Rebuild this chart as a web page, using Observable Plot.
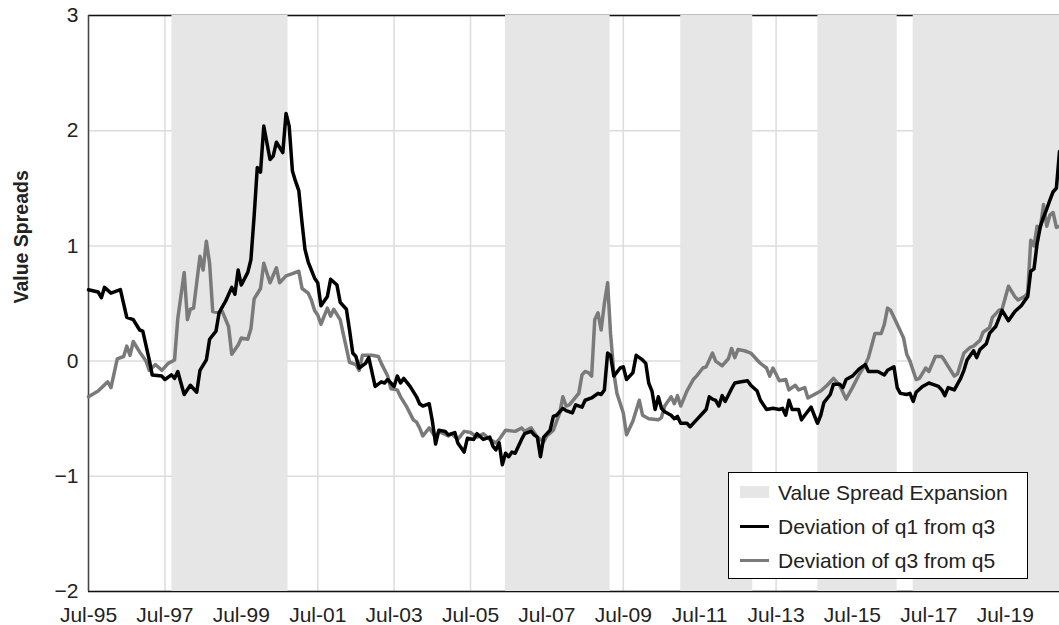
<!DOCTYPE html>
<html>
<head>
<meta charset="utf-8">
<script src="https://cdn.jsdelivr.net/npm/d3@7"></script>
<script src="https://cdn.jsdelivr.net/npm/@observablehq/plot@0.6"></script>
<style>
  body { margin: 0; background: #fff; }
  #wrap { position: relative; width: 1059px; height: 625px; font-family: "Liberation Sans", Arial, sans-serif; }
  #legend { position: absolute; left: 728px; top: 472px; width: 300px; height: 107px; border: 1px solid #000; background: #fff; box-sizing: border-box; font-size: 21px; color: #222; }
  #legend .row { position: absolute; left: 0; height: 30px; width: 100%; }
  #legend .sw { position: absolute; left: 11px; width: 29px; }
  #legend .lab { position: absolute; left: 49px; top: 50%; transform: translateY(-50%); white-space: nowrap; line-height: 1; }
</style>
</head>
<body>
<div id="wrap"></div>
<script>
// ---- Data ----
const yLabel = "Value Spreads";
const seriesNames = ["Value Spread Expansion", "Deviation of q1 from q3", "Deviation of q3 from q5"];
const tickDates = ["1995-07","1997-07","1999-07","2001-07","2003-07","2005-07","2007-07","2009-07","2011-07","2013-07","2015-07","2017-07","2019-07"];
const tickLabels = ["Jul-95","Jul-97","Jul-99","Jul-01","Jul-03","Jul-05","Jul-07","Jul-09","Jul-11","Jul-13","Jul-15","Jul-17","Jul-19"];
const yTicks = [-2, -1, 0, 1, 2, 3];
const yTickLabels = ["\u22122", "\u22121", "0", "1", "2", "3"];
const xDomain = ["1995-07-01", "2020-12-01"];
const yDomain = [-2, 3];

// Value spread expansion periods (shaded)
const expansionPeriods = [
  ["1997-09-06", "2000-09-20"],
  ["2006-06-01", "2009-02-25"],
  ["2011-01-01", "2012-11-20"],
  ["2014-08-05", "2016-09-01"],
  ["2017-02-01", "2020-12-01"]
];

// Deviation of q1 from q3 (black)
const q1FromQ3 = [
  ["1995-07",0.62],["1995-10",0.60],["1995-11",0.55],["1995-12",0.64],["1996-02",0.59],["1996-05",0.62],
  ["1996-07",0.38],["1996-09",0.36],["1996-11",0.27],["1996-12",0.26],["1997-02",0.01],["1997-03",-0.12],
  ["1997-06",-0.13],["1997-07",-0.16],["1997-09",-0.12],["1997-10",-0.15],["1997-11",-0.09],["1997-12",-0.19],
  ["1998-01",-0.29],["1998-03",-0.21],["1998-05",-0.27],["1998-06",-0.08],["1998-08",0.01],["1998-09",0.19],
  ["1998-11",0.26],["1998-12",0.42],["1999-02",0.52],["1999-04",0.64],["1999-05",0.58],["1999-06",0.79],
  ["1999-07",0.66],["1999-09",0.77],["1999-10",0.88],["1999-11",1.26],["1999-12",1.68],["2000-01",1.64],
  ["2000-02",2.04],["2000-04",1.75],["2000-05",1.78],["2000-06",1.90],["2000-08",1.81],["2000-09",2.15],
  ["2000-10",2.04],["2000-11",1.65],["2000-12",1.56],["2001-01",1.48],["2001-02",1.20],["2001-03",0.97],
  ["2001-04",0.86],["2001-06",0.72],["2001-07",0.68],["2001-08",0.48],["2001-10",0.56],["2001-11",0.71],
  ["2002-01",0.66],["2002-02",0.51],["2002-04",0.45],["2002-05",0.27],["2002-06",0.07],["2002-07",0.04],
  ["2002-08",-0.06],["2002-10",-0.02],["2002-11",0.03],["2003-01",-0.22],["2003-03",-0.18],["2003-04",-0.19],
  ["2003-05",-0.16],["2003-07",-0.22],["2003-08",-0.13],["2003-09",-0.19],["2003-10",-0.15],["2003-12",-0.22],
  ["2004-02",-0.31],["2004-03",-0.37],["2004-04",-0.39],["2004-05",-0.38],["2004-06",-0.37],["2004-07",-0.52],
  ["2004-08",-0.72],["2004-09",-0.60],["2004-11",-0.61],["2004-12",-0.64],["2005-02",-0.62],["2005-03",-0.71],
  ["2005-05",-0.79],["2005-06",-0.67],["2005-08",-0.68],["2005-09",-0.63],["2005-11",-0.68],["2006-01",-0.66],
  ["2006-02",-0.74],["2006-03",-0.77],["2006-04",-0.71],["2006-05",-0.90],["2006-06",-0.80],["2006-07",-0.83],
  ["2006-08",-0.79],["2006-09",-0.80],["2006-11",-0.68],["2006-12",-0.63],["2007-02",-0.61],["2007-03",-0.64],
  ["2007-04",-0.66],["2007-05",-0.83],["2007-06",-0.66],["2007-08",-0.60],["2007-09",-0.48],["2007-10",-0.47],
  ["2007-12",-0.41],["2008-01",-0.43],["2008-03",-0.45],["2008-04",-0.38],["2008-06",-0.40],["2008-07",-0.34],
  ["2008-09",-0.32],["2008-11",-0.28],["2008-12",-0.29],["2009-01",-0.25],["2009-02",0.07],["2009-03",0.05],
  ["2009-04",-0.13],["2009-06",-0.06],["2009-07",-0.05],["2009-08",-0.16],["2009-10",-0.10],["2009-11",0.05],
  ["2010-01",0.01],["2010-02",-0.02],["2010-03",-0.19],["2010-04",-0.26],["2010-05",-0.42],["2010-06",-0.31],
  ["2010-07",-0.41],["2010-08",-0.44],["2010-10",-0.47],["2010-11",-0.50],["2010-12",-0.48],["2011-01",-0.54],
  ["2011-03",-0.54],["2011-04",-0.57],["2011-06",-0.51],["2011-08",-0.45],["2011-09",-0.42],["2011-10",-0.31],
  ["2011-11",-0.33],["2011-12",-0.34],["2012-01",-0.39],["2012-02",-0.30],["2012-03",-0.35],["2012-05",-0.24],
  ["2012-06",-0.19],["2012-08",-0.18],["2012-10",-0.17],["2012-11",-0.21],["2013-01",-0.26],["2013-02",-0.34],
  ["2013-04",-0.42],["2013-06",-0.41],["2013-08",-0.42],["2013-09",-0.41],["2013-10",-0.47],["2013-11",-0.34],
  ["2013-12",-0.42],["2014-02",-0.42],["2014-03",-0.51],["2014-04",-0.47],["2014-06",-0.40],["2014-07",-0.47],
  ["2014-08",-0.54],["2014-09",-0.47],["2014-10",-0.36],["2014-12",-0.29],["2015-01",-0.20],["2015-03",-0.20],
  ["2015-04",-0.23],["2015-05",-0.16],["2015-07",-0.13],["2015-09",-0.07],["2015-10",-0.05],["2015-11",-0.03],
  ["2015-12",-0.09],["2016-02",-0.09],["2016-03",-0.09],["2016-05",-0.12],["2016-06",-0.08],["2016-08",-0.05],
  ["2016-09",-0.23],["2016-10",-0.28],["2016-12",-0.29],["2017-01",-0.28],["2017-02",-0.35],["2017-03",-0.27],
  ["2017-05",-0.22],["2017-07",-0.19],["2017-08",-0.20],["2017-10",-0.22],["2017-11",-0.25],["2017-12",-0.30],
  ["2018-01",-0.23],["2018-02",-0.24],["2018-03",-0.25],["2018-05",-0.15],["2018-06",-0.08],["2018-07",0.01],
  ["2018-09",0.09],["2018-10",0.03],["2018-11",0.10],["2019-01",0.15],["2019-02",0.24],["2019-04",0.30],
  ["2019-06",0.44],["2019-08",0.35],["2019-10",0.43],["2019-12",0.48],["2020-02",0.56],["2020-03",0.78],
  ["2020-04",0.80],["2020-05",1.02],["2020-06",1.17],["2020-07",1.25],["2020-08",1.32],["2020-09",1.40],
  ["2020-10",1.47],["2020-11",1.50],["2020-12",1.82]
];

// Deviation of q3 from q5 (grey)
const q3FromQ5 = [
  ["1995-07",-0.31],["1995-10",-0.26],["1996-01",-0.18],["1996-02",-0.23],["1996-04",0.02],["1996-06",0.04],
  ["1996-07",0.13],["1996-08",0.05],["1996-09",0.17],["1996-11",0.08],["1997-01",0.00],["1997-02",-0.08],
  ["1997-04",-0.03],["1997-06",-0.08],["1997-08",-0.02],["1997-10",0.01],["1997-11",0.37],["1998-01",0.77],
  ["1998-02",0.36],["1998-03",0.45],["1998-04",0.46],["1998-06",0.91],["1998-07",0.79],["1998-08",1.04],
  ["1998-09",0.85],["1998-10",0.43],["1998-12",0.42],["1999-01",0.43],["1999-03",0.30],["1999-04",0.06],
  ["1999-06",0.14],["1999-07",0.20],["1999-09",0.19],["1999-10",0.28],["1999-11",0.54],["2000-01",0.63],
  ["2000-02",0.85],["2000-04",0.68],["2000-06",0.81],["2000-07",0.68],["2000-09",0.74],["2000-11",0.76],
  ["2001-01",0.78],["2001-02",0.63],["2001-04",0.59],["2001-05",0.53],["2001-06",0.44],["2001-07",0.40],
  ["2001-08",0.32],["2001-10",0.46],["2001-11",0.39],["2001-12",0.45],["2002-02",0.36],["2002-03",0.24],
  ["2002-05",-0.01],["2002-07",-0.03],["2002-08",-0.08],["2002-09",0.05],["2002-12",0.05],["2003-02",0.04],
  ["2003-03",-0.02],["2003-05",-0.13],["2003-06",-0.24],["2003-08",-0.25],["2003-09",-0.31],["2003-11",-0.40],
  ["2004-01",-0.51],["2004-02",-0.53],["2004-03",-0.58],["2004-04",-0.65],["2004-06",-0.58],["2004-08",-0.66],
  ["2004-09",-0.61],["2004-12",-0.65],["2005-01",-0.63],["2005-03",-0.68],["2005-05",-0.61],["2005-07",-0.62],
  ["2005-09",-0.66],["2005-11",-0.63],["2006-01",-0.68],["2006-03",-0.71],["2006-04",-0.68],["2006-06",-0.60],
  ["2006-09",-0.61],["2006-11",-0.58],["2006-12",-0.61],["2007-02",-0.58],["2007-04",-0.66],["2007-06",-0.70],
  ["2007-07",-0.65],["2007-09",-0.60],["2007-11",-0.45],["2007-12",-0.31],["2008-01",-0.39],["2008-02",-0.38],
  ["2008-05",-0.28],["2008-06",-0.12],["2008-07",-0.09],["2008-08",-0.10],["2008-09",-0.13],["2008-10",0.36],
  ["2008-11",0.42],["2008-12",0.27],["2009-01",0.50],["2009-02",0.68],["2009-03",0.24],["2009-04",-0.10],
  ["2009-05",-0.28],["2009-07",-0.45],["2009-08",-0.64],["2009-10",-0.52],["2009-12",-0.34],["2010-01",-0.47],
  ["2010-03",-0.50],["2010-06",-0.51],["2010-07",-0.49],["2010-08",-0.39],["2010-10",-0.31],["2010-11",-0.37],
  ["2010-12",-0.30],["2011-01",-0.39],["2011-03",-0.26],["2011-05",-0.16],["2011-06",-0.13],["2011-08",-0.06],
  ["2011-09",-0.05],["2011-11",0.07],["2011-12",0.00],["2012-02",-0.04],["2012-04",0.02],["2012-05",0.11],
  ["2012-06",0.03],["2012-07",0.10],["2012-09",0.09],["2012-11",0.07],["2013-01",0.01],["2013-02",-0.02],
  ["2013-04",-0.06],["2013-05",-0.13],["2013-06",-0.06],["2013-08",-0.17],["2013-10",-0.16],["2013-11",-0.25],
  ["2014-01",-0.21],["2014-02",-0.25],["2014-04",-0.23],["2014-05",-0.32],["2014-07",-0.29],["2014-09",-0.26],
  ["2014-11",-0.21],["2015-01",-0.15],["2015-03",-0.21],["2015-05",-0.33],["2015-07",-0.23],["2015-09",-0.12],
  ["2015-11",-0.03],["2015-12",0.03],["2016-02",0.24],["2016-04",0.24],["2016-05",0.32],["2016-06",0.46],
  ["2016-07",0.44],["2016-09",0.32],["2016-11",0.20],["2016-12",0.06],["2017-01",0.00],["2017-03",-0.16],
  ["2017-04",-0.15],["2017-06",-0.06],["2017-07",-0.09],["2017-09",0.04],["2017-11",0.04],["2017-12",0.00],
  ["2018-02",-0.09],["2018-03",-0.13],["2018-04",-0.11],["2018-06",0.07],["2018-08",0.12],["2018-09",0.13],
  ["2018-11",0.18],["2018-12",0.25],["2019-02",0.29],["2019-03",0.38],["2019-05",0.44],["2019-06",0.45],
  ["2019-08",0.65],["2019-10",0.56],["2019-11",0.53],["2020-01",0.56],["2020-02",0.59],["2020-03",1.05],
  ["2020-04",1.00],["2020-05",1.17],["2020-06",1.16],["2020-07",1.36],["2020-08",1.17],["2020-09",1.27],
  ["2020-10",1.29],["2020-11",1.16],["2020-12",1.17]
];

// ---- Build ----
const parseMonth = d3.utcParse("%Y-%m");
const parseDay = d3.utcParse("%Y-%m-%d");
const q1Rows = q1FromQ3.map(([d, v]) => ({date: parseMonth(d), value: v}));
const q3Rows = q3FromQ5.map(([d, v]) => ({date: parseMonth(d), value: v}));
const periods = expansionPeriods.map(([a, b]) => ({start: parseDay(a), end: parseDay(b)}));
const ticks = tickDates.map(parseMonth);
const labelMap = new Map(ticks.map((t, i) => [+t, tickLabels[i]]));
const yLabelMap = new Map(yTicks.map((t, i) => [t, yTickLabels[i]]));
const xStart = parseDay(xDomain[0]);
const xEnd = parseDay(xDomain[1]);

const colors = {shade: "#e6e6e6", q1: "#000000", q3: "#7a7a7a", grid: "#dcdcdc", text: "#222222"};

const chart = Plot.plot({
  width: 1059,
  height: 625,
  marginLeft: 88,
  marginRight: 0,
  marginTop: 15,
  marginBottom: 34,
  style: {fontFamily: "'Liberation Sans', Arial, sans-serif", fontSize: "21px", color: colors.text, background: "#fff", overflow: "visible"},
  x: {type: "utc", domain: [xStart, xEnd]},
  y: {domain: yDomain},
  marks: [
    Plot.gridX(ticks, {stroke: colors.grid, strokeOpacity: 1, strokeWidth: 1.5}),
    Plot.gridY(yTicks, {stroke: colors.grid, strokeOpacity: 1, strokeWidth: 1.5}),
    Plot.ruleY([yDomain[1]], {stroke: "#111", strokeWidth: 1.5}),
    Plot.ruleY([yDomain[0]], {stroke: "#111", strokeWidth: 1.5}),
    Plot.rect(periods, {x1: "start", x2: "end", fill: colors.shade}),
    Plot.ruleX([xStart], {stroke: "#444", strokeWidth: 1.5}),
    Plot.lineY(q3Rows, {x: "date", y: "value", stroke: colors.q3, strokeWidth: 3.5}),
    Plot.lineY(q1Rows, {x: "date", y: "value", stroke: colors.q1, strokeWidth: 3.5}),
    Plot.axisX(ticks, {tickSize: 0, tickPadding: 16, tickFormat: d => labelMap.get(+d), label: null, fontSize: 21, fill: colors.text}),
    Plot.axisY(yTicks, {tickSize: 0, tickPadding: 10, tickFormat: d => yLabelMap.get(d), label: null, fontSize: 21, fill: colors.text}),
    Plot.text([yLabel], {frameAnchor: "left", dx: -67, rotate: -90, fontSize: 19.5, fontWeight: "bold", fill: colors.text})
  ]
});

const wrap = document.getElementById("wrap");
wrap.appendChild(chart);

// Legend (overlay)
const legend = document.createElement("div");
legend.id = "legend";
const rowsSpec = [
  {top: 4, kind: "rect", color: colors.shade, label: seriesNames[0]},
  {top: 38, kind: "line", color: colors.q1, label: seriesNames[1]},
  {top: 72, kind: "line", color: colors.q3, label: seriesNames[2]}
];
rowsSpec.forEach(r => {
  const row = document.createElement("div");
  row.className = "row";
  row.style.top = r.top + "px";
  const sw = document.createElement("div");
  sw.className = "sw";
  if (r.kind === "rect") { sw.style.top = "9px"; sw.style.height = "12px"; }
  else { sw.style.top = "13.5px"; sw.style.height = "3px"; }
  sw.style.background = r.color;
  const lab = document.createElement("div");
  lab.className = "lab";
  lab.textContent = r.label;
  row.appendChild(sw);
  row.appendChild(lab);
  legend.appendChild(row);
});
wrap.appendChild(legend);
</script>
</body>
</html>
